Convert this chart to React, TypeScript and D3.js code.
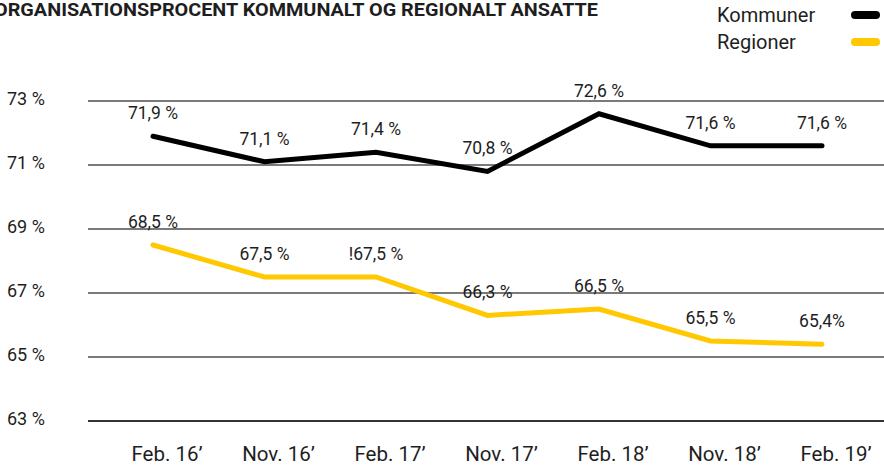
import React from "react";
import * as d3 from "d3";

const periods = ["Feb. 16’", "Nov. 16’", "Feb. 17’", "Nov. 17’", "Feb. 18’", "Nov. 18’", "Feb. 19’"];
const kommuner = [71.9, 71.1, 71.4, 70.8, 72.6, 71.6, 71.6];
const regioner = [68.5, 67.5, 67.5, 66.3, 66.5, 65.5, 65.4];
const kommunerLabels = ["71,9 %", "71,1 %", "71,4 %", "70,8 %", "72,6 %", "71,6 %", "71,6 %"];
const regionerLabels = ["68,5 %", "67,5 %", "!67,5 %", "66,3 %", "66,5 %", "65,5 %", "65,4%"];
const yTicks = [63, 65, 67, 69, 71, 73];
const title = "ORGANISATIONSPROCENT KOMMUNALT OG REGIONALT ANSATTE";
const legendItems = [
  { name: "Kommuner", color: "#000000" },
  { name: "Regioner", color: "#FFC800" },
];

const W = 884;
const H = 468;
const FONT = "Roboto, 'Liberation Sans', sans-serif";
const TEXT = "#1e1e1e";

export default function App() {
  const x = d3.scalePoint<string>().domain(periods).range([153, 822]);
  const y = d3.scaleLinear().domain([63, 73]).range([421, 101]);
  const line = d3
    .line<number>()
    .x((_, i) => x(periods[i]) as number)
    .y((d) => y(d));

  const series = [
    { values: kommuner, labels: kommunerLabels, color: "#000000" },
    { values: regioner, labels: regionerLabels, color: "#FFC800" },
  ];

  return (
    <svg
      width={W}
      height={H}
      style={{ position: "absolute", left: 0, top: 0, background: "#fff" }}
      fontFamily={FONT}
    >
      <text
        x={-6}
        y={16}
        fontSize={18}
        fontWeight={700}
        fill={TEXT}
        textLength={604}
        lengthAdjust="spacingAndGlyphs"
      >
        {title}
      </text>

      {legendItems.map((it, i) => (
        <g key={it.name} transform={`translate(0, ${15 + i * 27})`}>
          <text x={717} y={7} fontSize={20} fill={TEXT}>
            {it.name}
          </text>
          <line x1={855} x2={876} y1={0} y2={0} stroke={it.color} strokeWidth={8} strokeLinecap="round" />
        </g>
      ))}

      {yTicks.map((t) => (
        <g key={t}>
          <line
            x1={88}
            x2={W}
            y1={y(t)}
            y2={y(t)}
            stroke={t === 63 ? "#333" : "#7a7a7a"}
            strokeWidth={1.8}
          />
          <text x={7} y={y(t) + 4} fontSize={18} fill={TEXT}>
            {`${t} %`}
          </text>
        </g>
      ))}

      {periods.map((p) => (
        <text key={p} x={(x(p) as number) + 14} y={461} fontSize={20.5} textAnchor="middle" fill={TEXT}>
          {p}
        </text>
      ))}

      {series.map((s, si) => (
        <g key={si}>
          <path
            d={line(s.values) || ""}
            fill="none"
            stroke={s.color}
            strokeWidth={5}
            strokeLinecap="round"
            strokeLinejoin="miter"
          />
          {s.values.map((v, i) => (
            <text
              key={i}
              x={x(periods[i]) as number}
              y={y(v) - 17}
              fontSize={17.5}
              textAnchor="middle"
              fill={TEXT}
            >
              {s.labels[i]}
            </text>
          ))}
        </g>
      ))}
    </svg>
  );
}
